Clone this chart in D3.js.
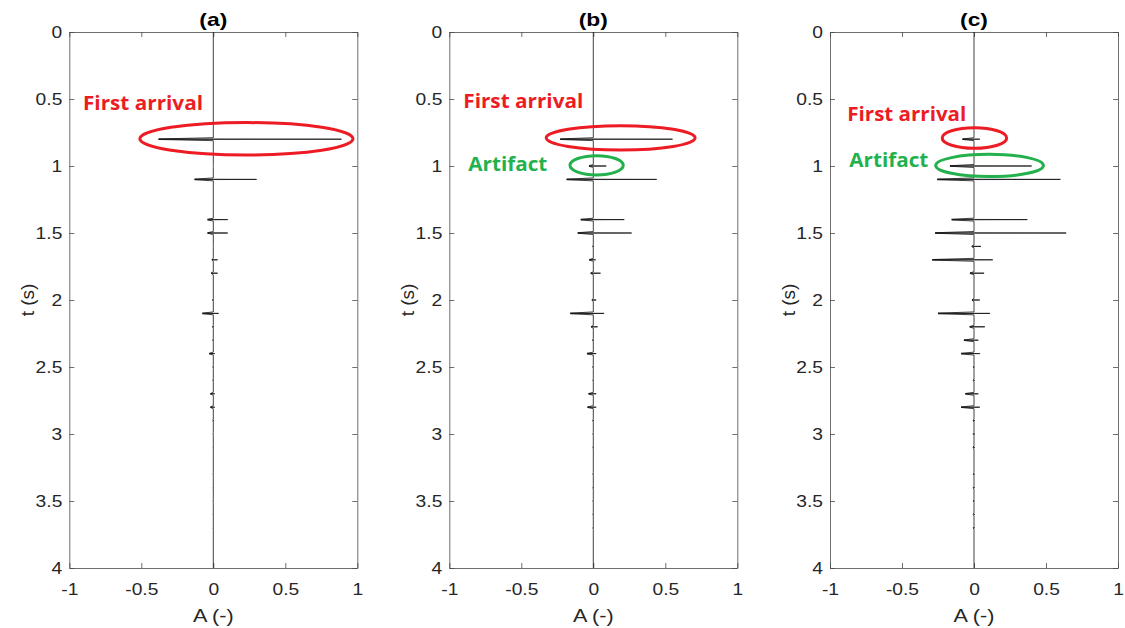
<!DOCTYPE html>
<html>
<head>
<meta charset="utf-8">
<script src="https://cdn.jsdelivr.net/npm/d3@7"></script>
<style>
  body { margin: 0; background: #fff; }
  svg { display: block; }
</style>
</head>
<body>
<svg id="chart" width="1125" height="628"></svg>
<script>
// ---- data ----
const panelTitles = ["(a)", "(b)", "(c)"];
const tTicks = [0, 0.5, 1, 1.5, 2, 2.5, 3, 3.5, 4];
const aTicks = [-1, -0.5, 0, 0.5, 1];

// event times (s), same for every trace
const eventT = [0.8, 1.0, 1.1, 1.4, 1.5, 1.6, 1.7, 1.8, 2.0, 2.1, 2.2, 2.3, 2.4, 2.5, 2.6, 2.7, 2.8, 2.9, 3.0, 3.1, 3.3, 3.4, 3.5, 3.6, 3.7];

// positive peak / negative side lobe of each event, per panel
const posA = [0.89, 0, 0.30, 0.10, 0.10, 0, 0.03, 0.03, 0.005, 0.037, 0.005, 0.004, 0.01, 0.004, 0.003, 0.01, 0.01, 0.004, 0.002, 0.002, 0.002, 0.002, 0.002, 0.002, 0.002];
const negA = [-0.38, 0, -0.13, -0.04, -0.04, 0, -0.01, -0.015, -0.005, -0.076, -0.005, -0.004, -0.028, -0.003, -0.003, -0.02, -0.02, -0.003, -0.002, -0.002, -0.002, -0.002, -0.002, -0.002, -0.002];

const posB = [0.55, 0.09, 0.44, 0.215, 0.266, 0.005, 0.016, 0.05, 0.02, 0.075, 0.03, 0.005, 0.02, 0.004, 0.003, 0.02, 0.02, 0.004, 0.003, 0.003, 0.003, 0.003, 0.003, 0.003, 0.003];
const negB = [-0.23, -0.03, -0.185, -0.087, -0.108, -0.004, -0.028, -0.018, -0.01, -0.16, -0.015, -0.005, -0.044, -0.004, -0.003, -0.033, -0.04, -0.004, -0.003, -0.003, -0.003, -0.003, -0.003, -0.003, -0.003];

const posC = [0.04, 0.40, 0.60, 0.37, 0.64, 0.048, 0.13, 0.07, 0.04, 0.11, 0.075, 0.03, 0.04, 0.005, 0.005, 0.03, 0.04, 0.006, 0.006, 0.006, 0.005, 0.005, 0.005, 0.005, 0.005];
const negC = [-0.08, -0.167, -0.255, -0.155, -0.27, -0.015, -0.29, -0.028, -0.014, -0.25, -0.03, -0.07, -0.09, -0.005, -0.005, -0.06, -0.09, -0.006, -0.006, -0.006, -0.005, -0.005, -0.005, -0.005, -0.005];

const traces = [[posA, negA], [posB, negB], [posC, negC]];

// annotation ellipses (data units) and labels
const ellipses = [
  {panel: 0, a: 0.23, t: 0.797, ra: 0.74, rt: 0.121, color: "#ed1c24"},
  {panel: 1, a: 0.19, t: 0.79, ra: 0.517, rt: 0.091, color: "#ed1c24"},
  {panel: 1, a: 0.023, t: 0.995, ra: 0.185, rt: 0.072, color: "#22b14c"},
  {panel: 2, a: 0.003, t: 0.791, ra: 0.224, rt: 0.077, color: "#ed1c24"},
  {panel: 2, a: 0.108, t: 0.996, ra: 0.374, rt: 0.083, color: "#22b14c"}
];
const labels = [
  {panel: 0, a: -0.905, t: 0.582, text: "First arrival", color: "#ed1c24", len: 120},
  {panel: 1, a: -0.903, t: 0.569, text: "First arrival", color: "#ed1c24", len: 120},
  {panel: 1, a: -0.868, t: 1.037, text: "Artifact", color: "#22b14c", len: 79},
  {panel: 2, a: -0.88, t: 0.664, text: "First arrival", color: "#ed1c24", len: 119},
  {panel: 2, a: -0.866, t: 1.005, text: "Artifact", color: "#22b14c", len: 79}
];

// ---- layout ----
const panelLeft = [69.3, 449.3, 830];
const panelW = 288;
const plotTop = 32, plotBottom = 568;
const axisColor = "#262626";
const sansFont = "Liberation Sans, Arial, sans-serif";
const stretch = 1.2; // the source figure is a little wider than tall

const svg = d3.select("#chart");
svg.append("rect").attr("width", 1125).attr("height", 628).attr("fill", "#fff");

// widen a text node horizontally, like the source
function widen(sel) {
  sel.each(function() {
    const w = this.getComputedTextLength();
    d3.select(this).attr("textLength", w * stretch).attr("lengthAdjust", "spacingAndGlyphs");
  });
}

// each event as a thin zero-phase wavelet: side lobe, peak, side lobe
function tracePoints(pos, neg) {
  const pts = [{t: 0, a: 0}];
  eventT.forEach((t, i) => {
    pts.push({t: t - 0.011, a: 0});
    pts.push({t: t - 0.002, a: neg[i]});
    pts.push({t: t, a: pos[i]});
    pts.push({t: t + 0.002, a: neg[i]});
    pts.push({t: t + 0.011, a: 0});
  });
  pts.push({t: 4, a: 0});
  return pts;
}

panelTitles.forEach((title, p) => {
  const x = d3.scaleLinear().domain([-1, 1]).range([panelLeft[p], panelLeft[p] + panelW]);
  const y = d3.scaleLinear().domain([0, 4]).range([plotTop, plotBottom]);
  const g = svg.append("g");

  const fmt = d => String(d);

  // axes with inward ticks on all four sides
  g.append("g")
    .attr("transform", `translate(0,${plotBottom})`)
    .call(d3.axisBottom(x).tickValues(aTicks).tickFormat(fmt).tickSizeInner(-5).tickSizeOuter(0).tickPadding(16));
  g.append("g")
    .attr("transform", `translate(0,${plotTop})`)
    .call(d3.axisTop(x).tickValues(aTicks).tickFormat("").tickSizeInner(-5).tickSizeOuter(0));
  g.append("g")
    .attr("transform", `translate(${panelLeft[p]},0)`)
    .call(d3.axisLeft(y).tickValues(tTicks).tickFormat(fmt).tickSizeInner(-5).tickSizeOuter(0).tickPadding(7));
  g.append("g")
    .attr("transform", `translate(${panelLeft[p] + panelW},0)`)
    .call(d3.axisRight(y).tickValues(tTicks).tickFormat("").tickSizeInner(-5).tickSizeOuter(0));

  g.selectAll(".domain, .tick line").attr("stroke", "#4a4a4a").attr("stroke-width", 0.8);
  g.selectAll(".tick text")
    .attr("fill", axisColor)
    .attr("font-family", sansFont)
    .attr("font-size", 16)
    .call(widen);

  // trace
  const line = d3.line().x(d => x(d.a)).y(d => y(d.t));
  g.append("path")
    .datum(tracePoints(traces[p][0], traces[p][1]))
    .attr("d", line)
    .attr("fill", "none")
    .attr("stroke", "#111")
    .attr("stroke-width", 0.8);

  // title
  g.append("text")
    .attr("x", x(0)).attr("y", 26)
    .attr("text-anchor", "middle")
    .attr("font-family", sansFont)
    .attr("font-weight", "bold")
    .attr("font-size", 19)
    .attr("fill", "#000")
    .text(title)
    .call(widen);

  // axis labels
  g.append("text")
    .attr("x", x(0)).attr("y", 622)
    .attr("text-anchor", "middle")
    .attr("font-family", sansFont)
    .attr("font-size", 18)
    .attr("fill", axisColor)
    .text("A (-)")
    .call(widen);
  g.append("text")
    .attr("transform", `translate(${panelLeft[p] - 35},${(plotTop + plotBottom) / 2}) rotate(-90)`)
    .attr("text-anchor", "middle")
    .attr("font-family", sansFont)
    .attr("font-size", 19)
    .attr("fill", axisColor)
    .text("t (s)");

  // annotations
  ellipses.filter(e => e.panel === p).forEach(e => {
    g.append("ellipse")
      .attr("cx", x(e.a)).attr("cy", y(e.t))
      .attr("rx", x(e.a + e.ra) - x(e.a))
      .attr("ry", y(e.t + e.rt) - y(e.t))
      .attr("fill", "none")
      .attr("stroke", e.color)
      .attr("stroke-width", 3);
  });
  labels.filter(l => l.panel === p).forEach(l => {
    g.append("text")
      .attr("x", x(l.a)).attr("y", y(l.t))
      .attr("font-family", "Open Sans, Lato, sans-serif")
      .attr("font-weight", "bold")
      .attr("font-size", 20)
      .attr("textLength", l.len)
      .attr("lengthAdjust", "spacingAndGlyphs")
      .attr("fill", l.color)
      .text(l.text);
  });
});
</script>
</body>
</html>
